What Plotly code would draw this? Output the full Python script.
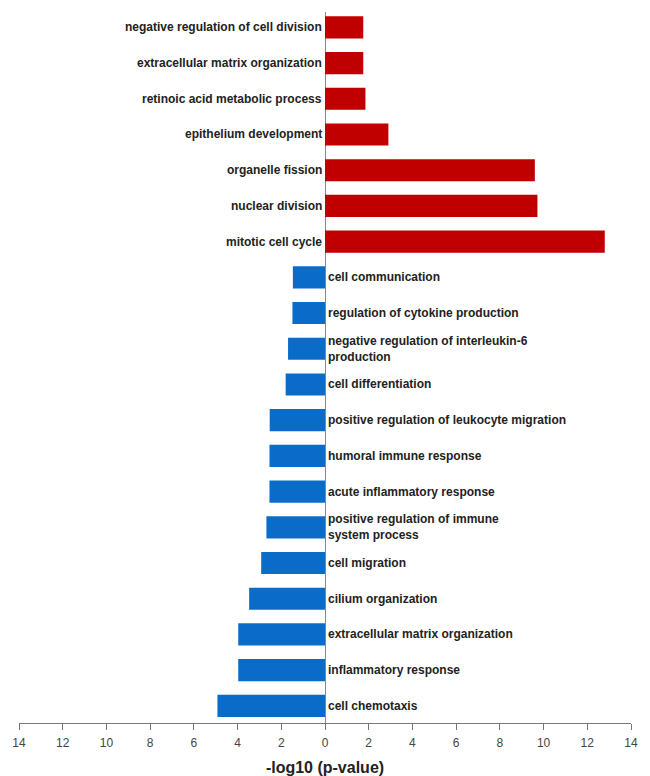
import plotly.graph_objects as go

up_terms = ["negative regulation of cell division", "extracellular matrix organization",
            "retinoic acid metabolic process", "epithelium development",
            "organelle fission", "nuclear division", "mitotic cell cycle"]
up_values = [1.75, 1.75, 1.85, 2.9, 9.6, 9.72, 12.8]

down_terms = ["cell communication", "regulation of cytokine production",
              "negative regulation of interleukin-6<br>production", "cell differentiation",
              "positive regulation of leukocyte migration", "humoral immune response",
              "acute inflammatory response", "positive regulation of immune<br>system process",
              "cell migration", "cilium organization", "extracellular matrix organization",
              "inflammatory response", "cell chemotaxis"]
down_values = [1.47, 1.49, 1.69, 1.8, 2.53, 2.54, 2.54, 2.68, 2.92, 3.47, 3.97, 3.97, 4.92]

tick_vals = list(range(-14, 15, 2))
tick_text = [str(abs(v)) for v in tick_vals]

n_up = len(up_terms)
up_y = list(range(n_up))
down_y = list(range(n_up, n_up + len(down_terms)))
down_x = [-v for v in down_values]

fig = go.Figure()
fig.add_trace(go.Bar(x=up_values, y=up_y, orientation="h", marker=dict(color="#C00000", line=dict(width=0)),
                     showlegend=False))
fig.add_trace(go.Bar(x=down_x, y=down_y, orientation="h", marker=dict(color="#0A6CC8", line=dict(width=0)),
                     showlegend=False))

label_font = dict(family="Liberation Sans, Arial, sans-serif", size=12, color="#222222")
for t, y in zip(up_terms, up_y):
    fig.add_annotation(x=0, y=y, text="<b>%s</b>" % t, showarrow=False, xanchor="right",
                       xshift=-1, yanchor="middle", align="right", font=label_font)
for t, y in zip(down_terms, down_y):
    fig.add_annotation(x=0, y=y, text="<b>%s</b>" % t, showarrow=False, xanchor="left",
                       xshift=1, yanchor="middle", align="left", font=label_font)

fig.update_layout(
    width=650, height=776,
    margin=dict(l=19, r=19, t=12, b=53, autoexpand=False),
    plot_bgcolor="white", paper_bgcolor="white",
    bargap=0.38,
    xaxis=dict(range=[-14, 14], tickvals=tick_vals, ticktext=tick_text, automargin=False,
               showgrid=False, zeroline=True, zerolinecolor="#888888", zerolinewidth=1,
               showline=True, linecolor="#777777", linewidth=1,
               ticks="outside", ticklen=6, tickcolor="#777777", ticklabelstandoff=3,
               tickfont=dict(family="Liberation Sans, Arial, sans-serif", size=12, color="#444444"),
               title=dict(text="<b>-log10 (p-value)</b>", standoff=14,
                          font=dict(family="Liberation Sans, Arial, sans-serif", size=16, color="#222222"))),
    yaxis=dict(range=[len(up_terms) + len(down_terms) - 1 + 0.48, -0.43], showgrid=False, automargin=False,
               zeroline=False, showticklabels=False, showline=False, ticks=""),
)

fig.write_html("out.html")
